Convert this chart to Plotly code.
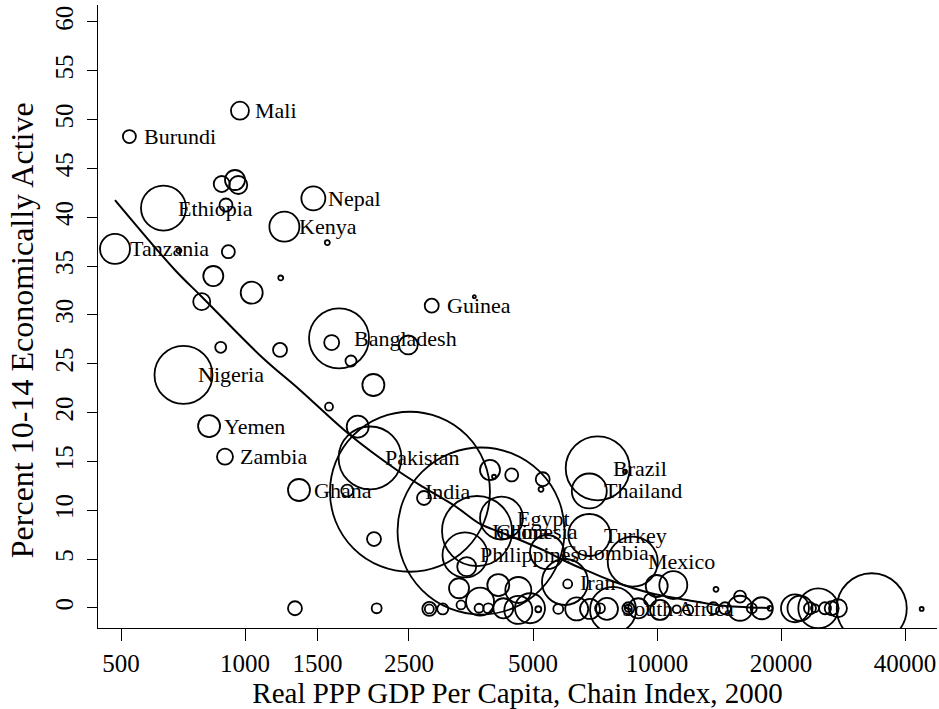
import numpy as np
import plotly.graph_objects as go

# Labeled countries: GDP per capita (PPP, 2000), % of 10-14 economically active, 10-14 population (millions)
lab_country = ["Burundi", "Mali", "Ethiopia", "Nepal", "Kenya", "Tanzania", "Nigeria", "Yemen",
               "Zambia", "Guinea", "Bangladesh", "Ghana", "Pakistan", "India", "China", "Indonesia",
               "Egypt", "Philippines", "Brazil", "Thailand", "Turkey", "Colombia", "Mexico", "Iran",
               "South Africa"]
lab_gdp = [524, 972, 634, 1465, 1246, 483.5, 709, 818, 894, 2839, 1691, 1352, 2011, 2514, 3740, 3657,
           4193, 3419, 7178, 6849, 6849, 5407, 8730, 5978, 7559]
lab_active = [48.27, 50.92, 40.95, 41.95, 39.04, 36.76, 23.86, 18.63, 15.49, 30.95, 27.61, 12.08,
              15.36, 11.9, 7.88, 7.88, 9.21, 5.43, 14.30, 11.98, 7.47, 5.73, 4.74, 2.66, -0.10]
lab_pop = [0.75, 1.44, 9.0, 2.56, 4.0, 4.0, 14.95, 2.15, 1.14, 0.87, 16.0, 2.15, 17.6, 113.8, 124.0,
           21.8, 8.2, 9.0, 18.2, 5.44, 7.84, 5.14, 11.1, 9.4, 2.15]

# Other (unlabeled) countries
oth_gdp = [878, 945.5, 963, 899, 1584, 691, 911, 837.5, 1221, 1038, 785, 873, 1216, 1623, 1808, 2490,
           2049, 1599, 1877, 3602, 3932, 4021, 4439, 5279, 5229, 1771, 2719, 2056, 3452, 8362, 6069,
           9982, 10953, 13904,
           1322, 2087, 2801, 2801, 3019, 3344, 3307, 3698, 4119, 3719, 3895, 4235, 4606, 4606, 4917,
           5150, 5758, 6384, 6876, 7271, 7820, 8518, 8518, 9006, 9615, 10168, 11163, 11909, 13696,
           14622, 15904, 15904, 16982, 17958, 18809, 21620, 22233, 23509, 24175, 24625, 25566, 26540,
           27490, 33200, 43890]
oth_active = [43.41, 43.82, 43.31, 41.26, 37.40, 36.58, 36.48, 33.99, 33.79, 32.28, 31.36, 26.69, 26.42,
              27.18, 25.29, 26.93, 22.83, 20.61, 18.56, 31.87, 14.13, 13.44, 13.62, 13.18, 12.15, 12.01,
              11.26, 7.06, 4.23, 13.96, 2.46, 2.25, 2.35, 1.91,
              -0.03, -0.03, -0.10, -0.10, -0.10, 0.31, 2.02, -0.03, 2.35, 0.65, -0.03, -0.03, 1.84,
              -0.20, -0.03, -0.13, -0.10, -0.10, -0.10, -0.03, -0.20, -0.03, -0.03, -0.03, 0.82, -0.20,
              -0.13, -0.20, -0.03, -0.03, 1.16, -0.03, -0.03, -0.03, -0.03, -0.03, -0.03, -0.03, -0.03,
              -0.03, -0.03, -0.03, -0.03, -0.03, -0.10]
oth_pop = [1.14, 1.78, 1.44, 0.75, 0.11, 0.11, 0.75, 1.78, 0.11, 2.15, 1.28, 0.54, 0.87, 1.0, 0.54, 1.6,
           2.15, 0.28, 2.15, 0.04, 1.78, 0.07, 0.75, 0.87, 0.11, 0.64, 0.87, 0.87, 1.6, 0.07, 0.36,
           2.15, 3.48, 0.11,
           0.87, 0.44, 0.87, 0.36, 0.54, 0.36, 1.78, 0.36, 2.15, 3.48, 0.44, 1.78, 3.0, 3.48, 4.0,
           0.16, 0.44, 2.35, 1.78, 0.44, 9.4, 0.64, 0.22, 1.78, 0.64, 1.78, 0.28, 0.44, 0.64, 0.64,
           0.64, 2.78, 0.44, 2.15, 0.11, 3.48, 2.78, 0.64, 0.28, 7.1, 0.64, 0.87, 1.44, 21.8, 0.07]

# Smoothed (lowess) fit
fit_gdp = [483.5, 676, 785, 1098, 1359, 1798, 2335, 2704, 3233, 3719, 4158, 4650, 5346, 6045, 6876,
           7776, 9615, 11823, 14219, 18809]
fit_active = [41.77, 34.61, 31.87, 25.70, 22.32, 17.71, 14.13, 12.39, 10.44, 8.60, 7.78, 6.96, 5.84,
              4.71, 3.69, 2.76, 1.54, 0.82, 0.26, 0.0]

x_ticks = [500, 1000, 1500, 2500, 5000, 10000, 20000, 40000]
y_ticks = list(range(0, 61, 5))

FONT = "Liberation Serif"
SCALE = 15.0  # px diameter per sqrt(million)


def sizes(p):
    return [SCALE * np.sqrt(v) for v in p]


fig = go.Figure()
marker_style = dict(color="rgba(0,0,0,0)", opacity=1, line=dict(color="black", width=1.8),
                    sizemode="diameter")
fig.add_trace(go.Scatter(x=oth_gdp, y=oth_active, mode="markers",
                         marker=dict(size=sizes(oth_pop), **marker_style),
                         hoverinfo="skip", showlegend=False))
fig.add_trace(go.Scatter(x=lab_gdp, y=lab_active, mode="markers", text=lab_country,
                         marker=dict(size=sizes(lab_pop), **marker_style),
                         showlegend=False))
fig.add_trace(go.Scatter(x=fit_gdp, y=fit_active, mode="lines",
                         line=dict(color="black", width=2.0, shape="spline", smoothing=1.0),
                         hoverinfo="skip", showlegend=False))

for name, gx, gy in zip(lab_country, lab_gdp, lab_active):
    fig.add_annotation(x=np.log10(gx), y=gy, text=name, showarrow=False, xanchor="left",
                       yanchor="middle", xshift=13, font=dict(family=FONT, size=22, color="black"))

# y-axis title (placed as annotation to match the reference's vertical position)
fig.add_annotation(text="Percent 10-14 Economically Active", textangle=-90, showarrow=False,
                   xref="paper", yref="paper", x=0, y=0.478, xanchor="center", yanchor="middle",
                   xshift=-76, font=dict(family=FONT, size=32, color="black"))

fig.update_layout(
    width=939, height=709,
    margin=dict(l=98, r=2, t=5, b=81),
    paper_bgcolor="white", plot_bgcolor="white",
    font=dict(family=FONT, color="black"),
)
fig.update_xaxes(
    type="log", range=[np.log10(500) - 23 / 412, np.log10(500) + 816 / 412],
    tickvals=x_ticks, ticktext=[str(v) for v in x_ticks],
    ticks="outside", ticklen=12, tickwidth=1.3, tickcolor="black",
    showline=True, linecolor="black", linewidth=1.3, showgrid=False, zeroline=False,
    tickfont=dict(family=FONT, size=25), ticklabelstandoff=1, automargin=False,
    title=dict(text="Real PPP GDP Per Capita, Chain Index, 2000", font=dict(family=FONT, size=29),
               standoff=2),
)
fig.update_yaxes(
    range=[-2.05, 61.74], tickvals=y_ticks, ticktext=[str(v) for v in y_ticks], tickangle=-90,
    ticks="outside", ticklen=10, tickwidth=1.3, tickcolor="black",
    showline=True, linecolor="black", linewidth=1.3, showgrid=False, zeroline=False,
    tickfont=dict(family=FONT, size=25), ticklabelstandoff=4, automargin=False,
)

fig.write_html("out.html", config={"displayModeBar": False},
               post_script="document.body.style.margin='0';document.body.style.padding='0';")
